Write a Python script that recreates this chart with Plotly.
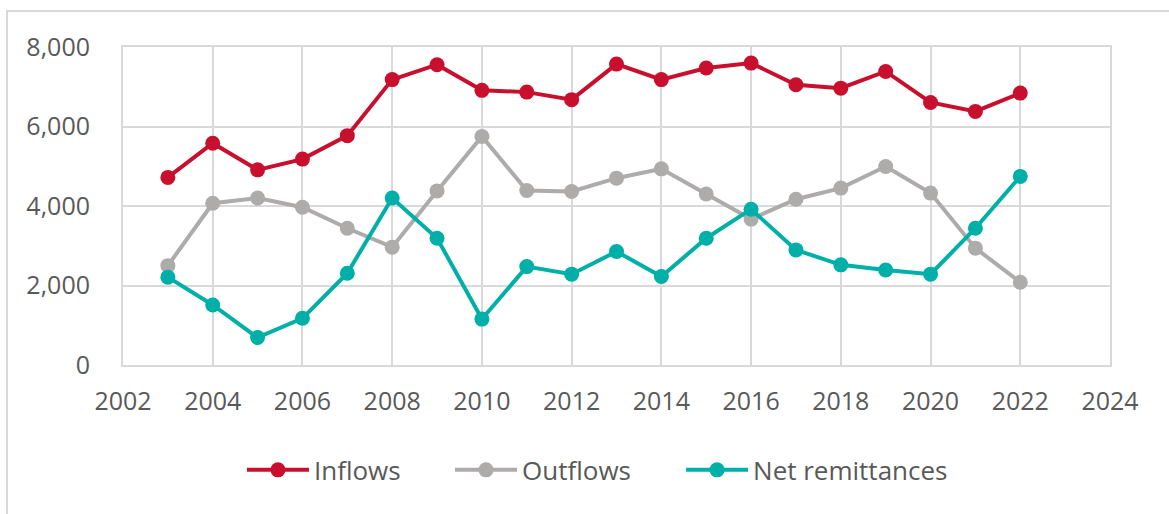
import plotly.graph_objects as go

years = list(range(2003, 2023))

inflows = [4720, 5580, 4910, 5180, 5770, 7180, 7555, 6910, 6865, 6675,
           7570, 7180, 7470, 7595, 7050, 6965, 7385, 6605, 6380, 6840]
outflows = [2500, 4070, 4200, 3970, 3440, 2965, 4380, 5750, 4390, 4365,
            4700, 4935, 4300, 3670, 4170, 4450, 4995, 4325, 2940, 2080]
net_remittances = [2210, 1510, 690, 1175, 2310, 4200, 3190, 1155, 2475, 2285,
                   2855, 2225, 3190, 3920, 2895, 2520, 2390, 2285, 3440, 4745]

series_names = ["Inflows", "Outflows", "Net remittances"]
series_colors = ["#C8102E", "#AEABAB", "#00AFA8"]

x_ticks = list(range(2002, 2025, 2))
y_ticks = [0, 2000, 4000, 6000, 8000]

FONT = "Open Sans"
TEXT_COLOR = "#595959"
GRID = "#D9D9D9"

# one single-entry legend per series so the entries can be spaced freely
legend_ids = ["legend", "legend2", "legend3"]
legend_x = [0.1205, 0.3313, 0.5654]

fig = go.Figure()
for name, values, color, lid in zip(series_names, [inflows, outflows, net_remittances],
                                    series_colors, legend_ids):
    fig.add_trace(go.Scatter(
        x=years, y=values, name=name, mode="lines+markers",
        line=dict(color=color, width=4),
        marker=dict(color=color, size=15),
        legend=lid, showlegend=True,
    ))

fig.update_xaxes(
    range=[2002, 2024], tickvals=x_ticks, ticktext=[str(t) for t in x_ticks],
    showgrid=True, gridcolor=GRID, gridwidth=2,
    showline=True, linecolor=GRID, linewidth=2, mirror=True,
    zeroline=False, ticks="", ticklabelstandoff=13,
    tickfont=dict(family=FONT, size=25, color=TEXT_COLOR),
)
fig.update_yaxes(
    range=[0, 8000], tickvals=y_ticks, tickformat=",",
    showgrid=True, gridcolor=GRID, gridwidth=2,
    showline=True, linecolor=GRID, linewidth=2, mirror=True,
    zeroline=False, ticks="", ticklabelstandoff=26,
    tickfont=dict(family=FONT, size=25, color=TEXT_COLOR),
)

# Light outer frame around the whole chart
fig.add_shape(
    type="rect", xref="paper", yref="paper",
    x0=-0.1175, x1=1.2, y0=-0.5, y1=1.113,
    line=dict(color=GRID, width=2), fillcolor="rgba(0,0,0,0)",
    layer="below",
)

legend_style = dict(
    orientation="h", xanchor="left", y=-0.33, yanchor="middle",
    font=dict(family=FONT, size=26, color=TEXT_COLOR),
    itemwidth=62, bgcolor="rgba(0,0,0,0)",
)

fig.update_layout(
    width=1169, height=514,
    margin=dict(l=123, r=59, t=47, b=149),
    paper_bgcolor="white", plot_bgcolor="white",
    font=dict(family=FONT, color=TEXT_COLOR),
    showlegend=True,
    **{lid: dict(x=lx, **legend_style) for lid, lx in zip(legend_ids, legend_x)},
)

fig.write_html("out.html")
